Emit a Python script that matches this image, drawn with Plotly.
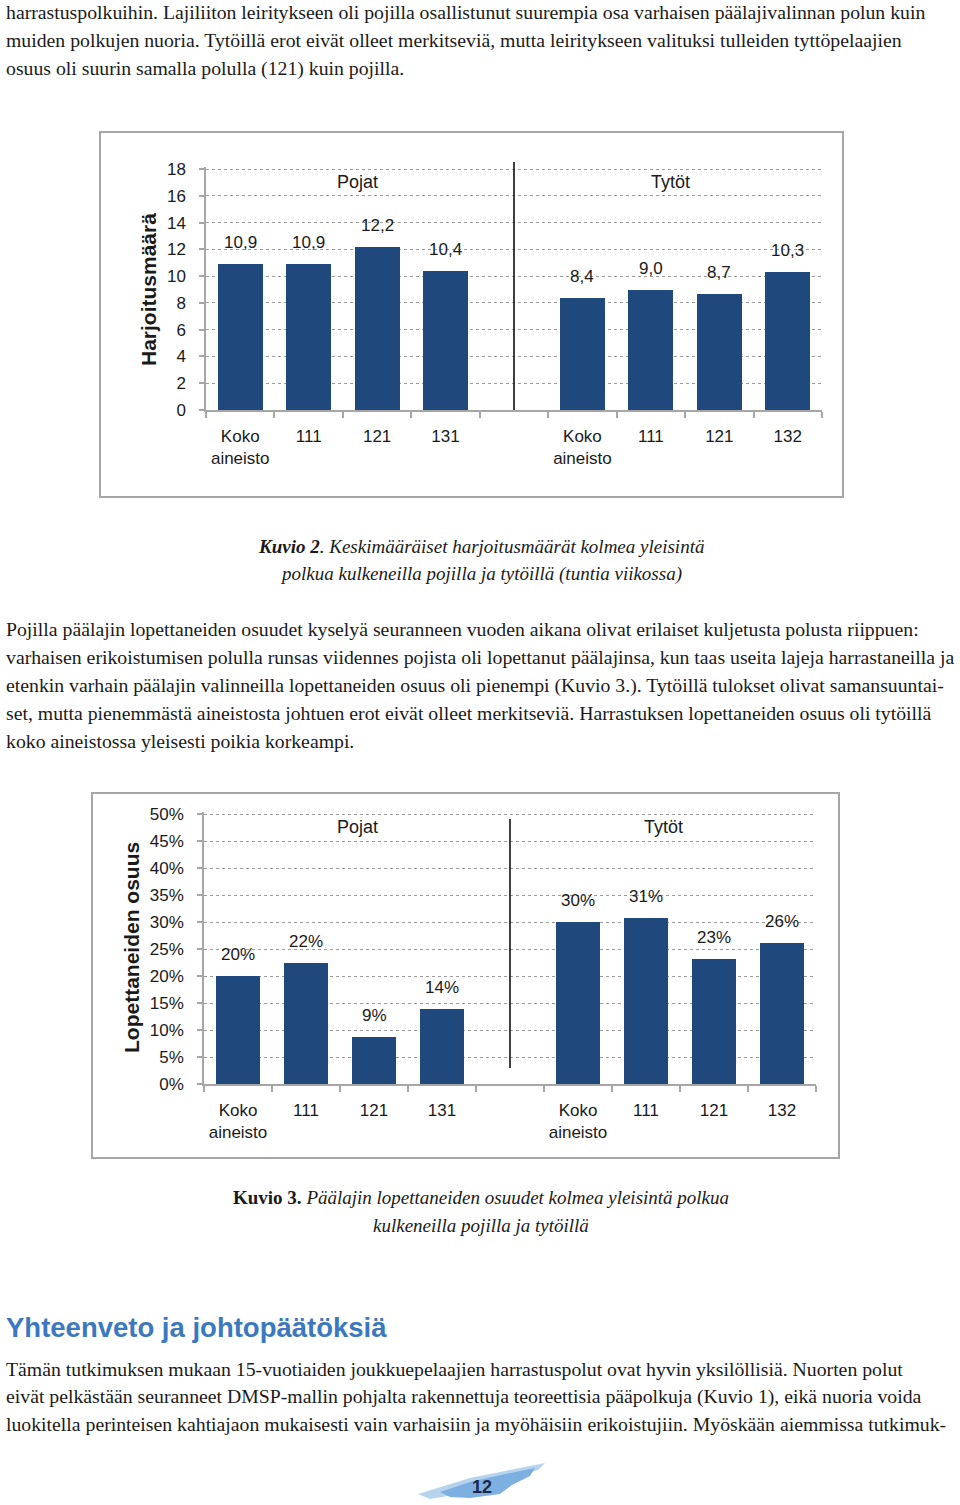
import plotly.graph_objects as go

W, H = 960, 1505

# ---------------- data ----------------
paths_boys = ["Koko<br>aineisto", "111", "121", "131"]
paths_girls = ["Koko<br>aineisto", "111", "121", "132"]
group_names = ["Pojat", "Tytöt"]

training_boys = [10.9, 10.9, 12.2, 10.4]
training_girls = [8.4, 9.0, 8.7, 10.3]

dropout_boys = [20.0, 22.4, 8.7, 13.9]
dropout_girls = [30.0, 30.7, 23.1, 26.1]

ytitle1 = "Harjoitusmäärä"
ytitle2 = "Lopettaneiden osuus"
yticks1 = list(range(0, 19, 2))
yticks2 = list(range(0, 51, 5))

para1 = [
    "harrastuspolkuihin. Lajiliiton leiritykseen oli pojilla osallistunut suurempia osa varhaisen päälajivalinnan polun kuin",
    "muiden polkujen nuoria. Tytöillä erot eivät olleet merkitseviä, mutta leiritykseen valituksi tulleiden tyttöpelaajien",
    "osuus oli suurin samalla polulla (121) kuin pojilla.",
]
caption2 = [
    "<b><i>Kuvio 2</i></b><i>. Keskimääräiset harjoitusmäärät kolmea yleisintä</i>",
    "<i>polkua kulkeneilla pojilla ja tytöillä (tuntia viikossa)</i>",
]
para2 = [
    "Pojilla päälajin lopettaneiden osuudet kyselyä seuranneen vuoden aikana olivat erilaiset kuljetusta polusta riippuen:",
    "varhaisen erikoistumisen polulla runsas viidennes pojista oli lopettanut päälajinsa, kun taas useita lajeja harrastaneilla ja",
    "etenkin varhain päälajin valinneilla lopettaneiden osuus oli pienempi (Kuvio 3.). Tytöillä tulokset olivat samansuuntai-",
    "set, mutta pienemmästä aineistosta johtuen erot eivät olleet merkitseviä. Harrastuksen lopettaneiden osuus oli tytöillä",
    "koko aineistossa yleisesti poikia korkeampi.",
]
caption3 = [
    "<b>Kuvio 3.</b> <i>Päälajin lopettaneiden osuudet kolmea yleisintä polkua</i>",
    "<i>kulkeneilla pojilla ja tytöillä</i>",
]
heading = "Yhteenveto ja johtopäätöksiä"
para3 = [
    "Tämän tutkimuksen mukaan 15-vuotiaiden joukkuepelaajien harrastuspolut ovat hyvin yksilöllisiä. Nuorten polut",
    "eivät pelkästään seuranneet DMSP-mallin pohjalta rakennettuja teoreettisia pääpolkuja (Kuvio 1), eikä nuoria voida",
    "luokitella perinteisen kahtiajaon mukaisesti vain varhaisiin ja myöhäisiin erikoistujiin. Myöskään aiemmissa tutkimuk-",
]
page_number = "12"

# ---------------- style ----------------
BAR = "#1F497D"
GRAY = "#A6A6A6"
TXT = "#1a1a1a"
SANS = "Liberation Sans, Arial, sans-serif"
SERIF = "Liberation Serif, Times New Roman, serif"
BODY = 19.75


def py(ypx):
    return 1 - ypx / H


def px(xpx):
    return xpx / W


# x slots: boys 0..3, empty slot 4, girls 5..8
xb = list(range(len(paths_boys)))
xg = [len(paths_boys) + 1 + i for i in range(len(paths_girls))]
xall = xb + xg
labels_all = paths_boys + paths_girls
divider_x = len(paths_boys)

fig = go.Figure()

fig.add_trace(go.Bar(x=xall, y=training_boys + training_girls, marker=dict(color=BAR, line=dict(width=0)),
                     width=0.66, xaxis="x", yaxis="y", hoverinfo="skip", showlegend=False))
fig.add_trace(go.Bar(x=xall, y=dropout_boys + dropout_girls, marker=dict(color=BAR, line=dict(width=0)),
                     width=0.66, xaxis="x2", yaxis="y2", hoverinfo="skip", showlegend=False))

annotations = []
shapes = []

# value labels
for xv, v in zip(xall, training_boys + training_girls):
    annotations.append(dict(x=xv, y=v, xref="x", yref="y", text=f"{v:.1f}".replace(".", ","),
                            showarrow=False, yanchor="bottom", yshift=10,
                            font=dict(family=SANS, size=17, color=TXT)))
for xv, v in zip(xall, dropout_boys + dropout_girls):
    annotations.append(dict(x=xv, y=v, xref="x2", yref="y2", text=f"{round(v):d}%",
                            showarrow=False, yanchor="bottom", yshift=10,
                            font=dict(family=SANS, size=17, color=TXT)))

# group labels
for xr, ypx, gx in [("x", 182, [1.71, 6.28]), ("x2", 827, [1.76, 6.26])]:
    for name, xv in zip(group_names, gx):
        annotations.append(dict(x=xv, y=py(ypx), xref=xr, yref="paper", text=name, showarrow=False,
                                xanchor="center", yanchor="middle", font=dict(family=SANS, size=18, color=TXT)))

# dividers
shapes.append(dict(type="line", xref="x", yref="paper", x0=divider_x, x1=divider_x,
                   y0=py(162), y1=py(410), line=dict(color="#111111", width=1.6)))
shapes.append(dict(type="line", xref="x2", yref="paper", x0=divider_x, x1=divider_x,
                   y0=py(819), y1=py(1068), line=dict(color="#111111", width=1.6)))

# frames
shapes.append(dict(type="rect", xref="paper", yref="paper", x0=px(100), x1=px(843), y0=py(132), y1=py(497),
                   line=dict(color=GRAY, width=2)))
shapes.append(dict(type="rect", xref="paper", yref="paper", x0=px(92), x1=px(839), y0=py(793), y1=py(1158),
                   line=dict(color=GRAY, width=2)))


def poly(pts):
    return "M " + " L ".join(f"{px(a):.5f} {py(b):.5f}" for a, b in pts) + " Z"


# page-number brush strokes
shapes.append(dict(type="path", xref="paper", yref="paper", fillcolor="#B7D4EF", line=dict(width=0),
                   path=poly([(418, 1494), (470, 1478), (520, 1468), (545, 1463), (538, 1470),
                              (500, 1482), (460, 1494), (430, 1499)])))
shapes.append(dict(type="path", xref="paper", yref="paper", fillcolor="#7DB0E0", line=dict(width=0),
                   path=poly([(440, 1492), (470, 1482), (505, 1474), (535, 1468), (530, 1476),
                              (512, 1485), (500, 1494), (470, 1498), (450, 1497)])))


def text_line(txt, x, ypx, size, family, color=TXT, xanchor="left"):
    annotations.append(dict(x=px(x), y=py(ypx), xref="paper", yref="paper", text=txt, showarrow=False,
                            xanchor=xanchor, yanchor="middle", align="center" if xanchor == "center" else "left",
                            font=dict(family=family, size=size, color=color)))


for i, t in enumerate(para1):
    text_line(t, 4, 12 + 28 * i, BODY, SERIF)
for i, t in enumerate(caption2):
    text_line(t, 481, 546 + 28 * i, 19, SERIF, xanchor="center")
for i, t in enumerate(para2):
    text_line(t, 4, 629 + 28 * i, BODY, SERIF)
for i, t in enumerate(caption3):
    text_line(t, 481, 1197 + 28 * i, 19, SERIF, xanchor="center")
text_line(f"<b>{heading}</b>", 4, 1327, 27.5, SANS, color="#3B78C0")
for i, t in enumerate(para3):
    text_line(t, 4, 1369 + 27.5 * i, BODY, SERIF)
text_line(f"<b>{page_number}</b>", 482, 1487, 18, SANS, color="#1b2a4a", xanchor="center")

# axis titles
annotations.append(dict(x=px(148), y=py(290), xref="paper", yref="paper", text=f"<b>{ytitle1}</b>",
                        textangle=-90, showarrow=False, xanchor="center", yanchor="middle",
                        font=dict(family=SANS, size=21, color=TXT)))
annotations.append(dict(x=px(132), y=py(948), xref="paper", yref="paper", text=f"<b>{ytitle2}</b>",
                        textangle=-90, showarrow=False, xanchor="center", yanchor="middle",
                        font=dict(family=SANS, size=21, color=TXT)))

xcommon = dict(range=[-0.5, len(xall) + 0.5], tickmode="array", tickvals=xall, ticktext=labels_all,
               ticks="", showline=True, linecolor=GRAY, linewidth=1.5, showgrid=False, zeroline=False,
               automargin=False, fixedrange=True,
               tickfont=dict(family=SANS, size=17, color=TXT), ticklabelstandoff=10,
               minor=dict(tickmode="array", tickvals=[i - 0.5 for i in range(len(xall) + 2)],
                          ticks="outside", ticklen=6, tickcolor=GRAY, tickwidth=1.5, showgrid=False))
ycommon = dict(tickmode="array", ticks="outside", ticklen=5, tickcolor=GRAY, tickwidth=1.5,
               showline=True, linecolor=GRAY, linewidth=1.5, showgrid=True, gridcolor="#9a9a9a",
               griddash="dot", gridwidth=1, zeroline=False, ticklabelstandoff=10,
               automargin=False, fixedrange=True,
               tickfont=dict(family=SANS, size=17, color=TXT))

# small headroom above the top tick so its gridline is drawn
pad1 = 0.15   # units of chart 1 (≈2 px)
pad2 = 0.4    # units of chart 2 (≈2 px)
s1 = (410 - 169) / 18
s2 = (1084 - 814) / 50

fig.update_layout(
    width=W, height=H, margin=dict(l=0, r=0, t=0, b=0, pad=0, autoexpand=False),
    paper_bgcolor="white", plot_bgcolor="white", bargap=0, showlegend=False,
    xaxis=dict(domain=[px(206), px(822)], anchor="y", **xcommon),
    yaxis=dict(domain=[py(410), py(169 - pad1 * s1)], anchor="x", range=[0, max(yticks1) + pad1],
               tickvals=yticks1, **ycommon),
    xaxis2=dict(domain=[px(204), px(816)], anchor="y2", **xcommon),
    yaxis2=dict(domain=[py(1084), py(814 - pad2 * s2)], anchor="x2", range=[0, max(yticks2) + pad2],
                tickvals=yticks2, ticktext=[f"{v}%" for v in yticks2], **ycommon),
    annotations=annotations, shapes=shapes,
)

fig.write_html("out.html", config={"displayModeBar": False},
               post_script="document.body.style.margin='0';document.body.style.overflow='hidden';")
